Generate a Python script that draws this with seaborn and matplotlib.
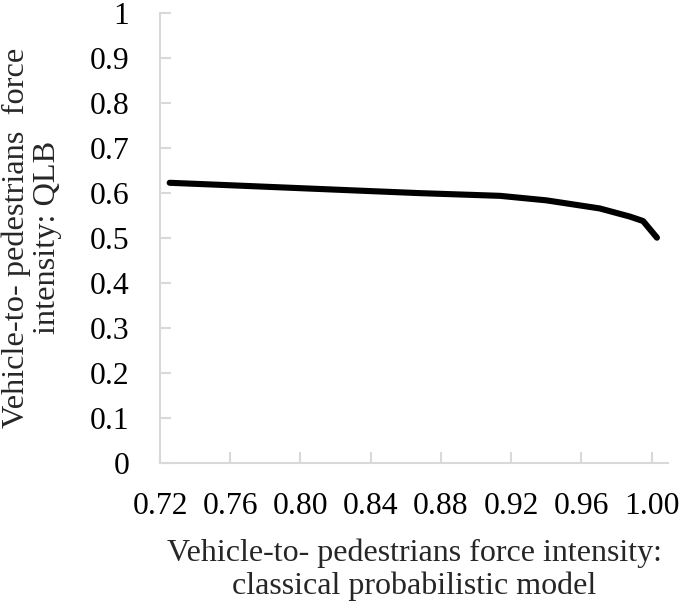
import pandas as pd
import matplotlib
matplotlib.use('Agg')
import matplotlib.pyplot as plt
import seaborn as sns

# Valores
classical = [0.7255, 0.76, 0.80, 0.84, 0.868, 0.9136, 0.94, 0.9704, 0.9875, 0.9951, 1.003]
qlb = [0.622, 0.6165, 0.610, 0.6035, 0.599, 0.593, 0.583, 0.565, 0.547, 0.537, 0.500]
x_ticks = [0.72, 0.76, 0.80, 0.84, 0.88, 0.92, 0.96, 1.00]
y_ticks = [0, 0.1, 0.2, 0.3, 0.4, 0.5, 0.6, 0.7, 0.8, 0.9, 1]

df = pd.DataFrame({'classical': classical, 'qlb': qlb})

sns.set_style('white')
plt.rcParams['font.family'] = ['Liberation Serif', 'DejaVu Serif']

fig = plt.figure(figsize=(6.85, 6.1), dpi=100)
ax = fig.add_axes([0.2336, 0.2415, 0.7416, 0.7377])

sns.lineplot(data=df, x='classical', y='qlb', ax=ax, color='black',
             linewidth=4.4, solid_capstyle='round', solid_joinstyle='round')

ax.set_xlim(0.72, 1.0093)
ax.set_ylim(0, 1)
ax.set_xticks(x_ticks)
ax.set_xticklabels([f"{v:.2f}" for v in x_ticks])
ax.set_yticks(y_ticks)
ax.set_yticklabels([f"{v:g}" for v in y_ticks])

for s in ['top', 'right']:
    ax.spines[s].set_visible(False)
for s in ['left', 'bottom']:
    ax.spines[s].set_color('#d9d9d9')
    ax.spines[s].set_linewidth(1.5)

ax.tick_params(axis='both', direction='in', length=8, width=1.5, color='#d9d9d9',
               labelsize=22.8, labelcolor='black', bottom=True, left=True)
ax.tick_params(axis='x', pad=21)
ax.tick_params(axis='y', pad=22)

ax.set_xlabel("Vehicle-to- pedestrians force intensity:\nclassical probabilistic model",
              fontsize=23, labelpad=13, linespacing=1.12)
ax.set_ylabel("Vehicle-to- pedestrians  force\nintensity: QLB",
              fontsize=23.3, labelpad=20, linespacing=1.1)

fig.savefig('out.png', dpi=100)
